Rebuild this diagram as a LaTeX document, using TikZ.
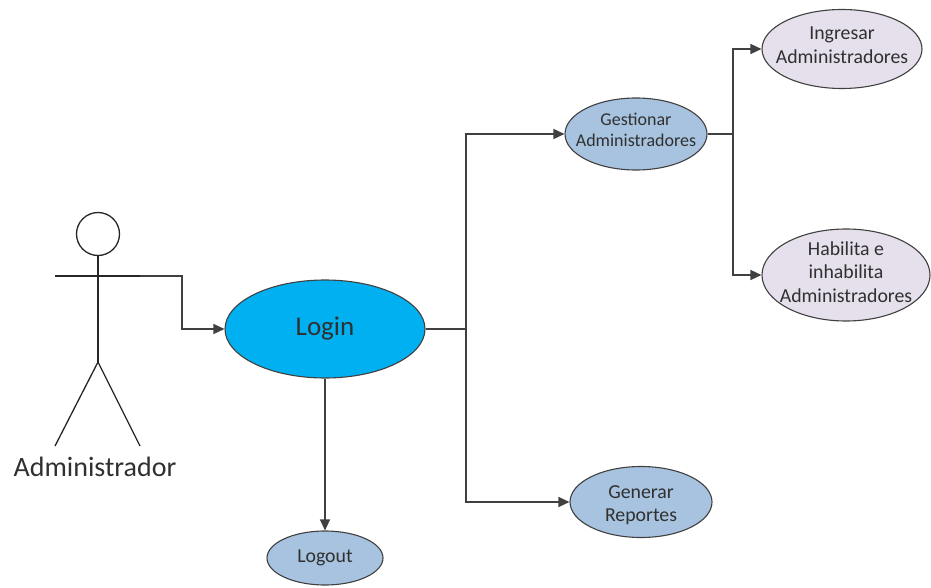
\documentclass[tikz,border=0pt]{standalone}
\usepackage{fontspec}
\setmainfont{Carlito}
\usetikzlibrary{shapes.geometric,arrows.meta}
\definecolor{loginblue}{HTML}{00B0F0}
\definecolor{ucblue}{HTML}{A7C3DF}
\definecolor{uclav}{HTML}{E5E0EC}
\definecolor{linegray}{HTML}{404040}
\definecolor{txtgray}{HTML}{303030}
\begin{document}
\begin{tikzpicture}[x=1pt,y=-1pt,
  uc/.style={ellipse,draw=linegray,line width=1.1pt,inner sep=0pt},
  uctext/.style={align=center,text=txtgray,inner sep=0pt},
  small/.style={font=\fontsize{19.8}{23.5}\selectfont},
  conn/.style={draw=linegray,line width=1.3pt},
  arr/.style={conn,-{Triangle[length=11pt,width=10pt]}},
  actorline/.style={draw=black!85,line width=1.3pt}]
\useasboundingbox (0,0) rectangle (931,588);
% use cases
\node[uc,fill=loginblue,minimum width=200pt,minimum height=98pt] (login) at (325,329) {};
\node[uctext,font=\fontsize{27}{30}\selectfont] (loginT) at (login) {Login};
\node[uc,fill=ucblue,minimum width=116pt,minimum height=54pt] (logout) at (325,558) {};
\node[uctext,small] (logoutT) at (logout) {Logout};
\node[uc,fill=ucblue,minimum width=142pt,minimum height=72pt] (gest) at (636,134) {};
\node[uctext,font=\fontsize{18}{21}\selectfont] (gestT) at (636,130) {Gestionar\\Administradores};
\node[uc,fill=ucblue,minimum width=142pt,minimum height=71pt] (gen) at (641,502) {};
\node[uctext,small] (genT) at (641,505) {Generar\\Reportes};
\node[uc,fill=uclav,minimum width=160pt,minimum height=79pt] (ingr) at (842,49) {};
\node[uctext,small] (ingrT) at (842,45) {Ingresar\\Administradores};
\node[uc,fill=uclav,minimum width=168pt,minimum height=92pt] (hab) at (846,275) {};
\node[uctext,small] (habT) at (846,272) {Habilita e\\inhabilita\\Administradores};
% actor
\node[circle,actorline,minimum size=43pt,inner sep=0pt] (head) at (98,234) {};
\coordinate (hip) at (98,362);
\coordinate (armL) at (55,276);
\coordinate (armR) at (140,276);
\coordinate (footL) at (55,446);
\coordinate (footR) at (140,446);
\draw[actorline] (head.south) -- (hip);
\draw[actorline] (armL) -- (armR);
\draw[actorline] (footL) -- (hip) -- (footR);
\node[font=\fontsize{28}{30}\selectfont,text=txtgray] (actlabel) at (95,467) {Administrador};
% connectors
\coordinate (j1) at (182,276);
\coordinate (j2) at (466,329);
\coordinate (j3) at (733,134);
\draw[arr] (armR) -- (j1) |- (login.west);
\draw[arr] (login.south) -- (logout.north);
\draw[conn] (login.east) -- (j2);
\draw[arr] (j2) |- (gest.west);
\draw[arr] (j2) |- (gen.west);
\draw[conn] (gest.east) -- (j3);
\draw[arr] (j3) |- (ingr.west);
\draw[arr] (j3) |- (hab.west);
\end{tikzpicture}
\end{document}
